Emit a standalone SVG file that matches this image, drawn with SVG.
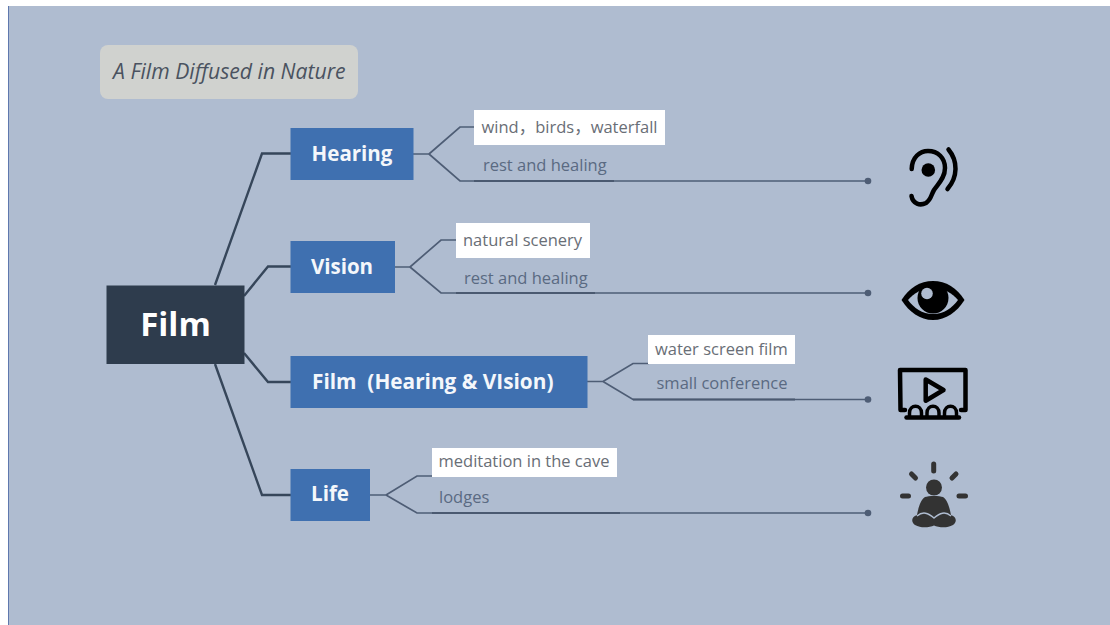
<svg xmlns="http://www.w3.org/2000/svg" width="1110" height="625" viewBox="0 0 1110 625">
<style>
text{font-family:"Open Sans","Noto Sans CJK SC",sans-serif}
.main{fill:#3F70B0}
.lab{fill:#F4F7FB;font-weight:700;font-size:20.500px}
.note{fill:#FFFFFF}
.nt{fill:#696E76;font-size:16.500px}
.st{fill:#5A6A82;font-size:16.500px}
.c1{fill:none;stroke:#36465A;stroke-width:2.400}
.c2{fill:none;stroke:#4E5D75;stroke-width:1.700}
.c3{fill:none;stroke:#4A5970;stroke-width:2}
.dot{fill:#4E5D75}
.ic{fill:none;stroke:#000;stroke-width:4.500;stroke-linecap:round;stroke-linejoin:round}
.ray{fill:none;stroke:#333;stroke-width:5;stroke-linecap:round}
</style>
<rect width="1110" height="625" fill="#FFFFFF"/>
<rect x="8" y="6" width="1102" height="620" fill="#AFBCD0"/>
<rect x="8" y="6" width="1" height="620" fill="#5F78AE"/>
<g id="connectors">
<path class="c1" d="M215 285L262 153.500H291"/>
<path class="c1" d="M244 296L268 266.500H291"/>
<path class="c1" d="M244 353L268 382H291"/>
<path class="c1" d="M215 364L262 495H291"/>
<path class="c2" d="M413 154H429M429 154L460 127H475M429 154L460 181H868"/>
<path class="c2" d="M395 267H410M410 267L441 240H457M410 267L441 293H868"/>
<path class="c2" d="M587 381.500H603M603 381.500L633 363.500H649M603 381.500L633 399.500H868"/>
<path class="c2" d="M370 495H386M386 495L417 476H433M386 495L417 513H868"/>
<path class="c3" d="M474 181H614M456 293H595M633 399.500H795M432 513H620"/>
<circle class="dot" cx="868" cy="181" r="3.300"/>
<circle class="dot" cx="868" cy="293" r="3.300"/>
<circle class="dot" cx="868" cy="399.500" r="3.300"/>
<circle class="dot" cx="868" cy="513" r="3.300"/>
</g>
<g id="title"><rect x="100" y="45" width="258" height="54" rx="8" fill="#D0D2CF"/>
<text x="113" y="79" font-size="21.200" font-style="italic" fill="#4A5260">A Film Diffused in Nature</text></g>
<g id="root"><rect x="106.500" y="285.500" width="138" height="78.500" fill="#2E3C4D"/>
<text x="175.500" y="336" font-size="33" font-weight="700" fill="#FFFFFF" text-anchor="middle">Film</text></g>
<g id="hearing"><rect class="main" x="290.500" y="128" width="123" height="52"/><text class="lab" x="352" y="161" text-anchor="middle">Hearing</text></g>
<g id="vision"><rect class="main" x="290.500" y="241" width="104.500" height="52"/><text class="lab" x="342" y="274" text-anchor="middle">Vision</text></g>
<g id="film-both"><rect class="main" x="290.500" y="356" width="297" height="52"/><text class="lab" x="312" y="389" style="font-size:20.800px" xml:space="preserve">Film  (Hearing &amp; VIsion)</text></g>
<g id="life"><rect class="main" x="290.500" y="469" width="79.500" height="52"/><text class="lab" x="330" y="501" text-anchor="middle">Life</text></g>
<g id="note-hearing-1"><rect class="note" x="474" y="110" width="191" height="35"/><text class="nt" x="481.500" y="133">wind，birds，waterfall</text></g>
<g id="note-hearing-2"><text class="st" x="483" y="171">rest and healing</text></g>
<g id="note-vision-1"><rect class="note" x="456" y="223" width="134" height="35"/><text class="nt" x="463" y="246">natural scenery</text></g>
<g id="note-vision-2"><text class="st" x="464" y="284">rest and healing</text></g>
<g id="note-film-1"><rect class="note" x="648" y="335" width="147" height="29"/><text class="nt" x="655" y="355">water screen film</text></g>
<g id="note-film-2"><text class="st" x="656.500" y="389">small conference</text></g>
<g id="note-life-1"><rect class="note" x="432" y="448" width="185" height="29"/><text class="nt" x="438.500" y="467">meditation in the cave</text></g>
<g id="note-life-2"><text class="st" x="439" y="503">lodges</text></g>
<g id="icon-ear">
<path class="ic" d="M911.700 169C912 157 920 151 928 151C938 151 945 158 945 168C945 178 938 184 934 190C931 195 931 200 926 203C920 206 913 204 911.500 196"/>
<circle cx="928.300" cy="170" r="6.800" fill="#000"/>
<path class="ic" d="M948.500 149.500C958 161 958 177 947.500 189"/>
</g>
<g id="icon-eye">
<path d="M901.500 300C909 288 920 281 933 281C946 281 957 288 964.500 300C957 312 946 320 933 320C920 320 909 312 901.500 300Z" fill="#000"/>
<path d="M908 300C914 293 922 288 933 288C944 288 952 293 958 300C952 308 944 314 933 314C922 314 914 308 908 300Z" fill="#AFBCD0"/>
<circle cx="933" cy="298" r="15.500" fill="#000"/>
<circle cx="927" cy="293.500" r="5.800" fill="#AFBCD0"/>
</g>
<g id="icon-film">
<path class="ic" d="M905 410H900.500L900 370H965.500V410H961"/>
<path class="ic" d="M925.700 379.500L943.500 390L925.700 400.700Z"/>
<path class="ic" style="stroke-width:3.500" d="M909.500 416V413C909.500 404 921.500 404 921.500 413V416M927 416V413C927 404 939 404 939 413V416M944.500 416V413C944.500 404 956.500 404 956.500 413V416"/>
<path class="ic" d="M906.500 417.500H959"/>
</g>
<g id="icon-meditate">
<path class="ray" d="M933.700 464V471M911.500 474L915.500 478M956 474L952 478M902.500 496H908.500M959 496H965.500"/>
<circle cx="934" cy="487.500" r="8" fill="#333"/>
<path d="M925 497C928 495.500 940 495.500 943 497C948 500 950 510 951 515C957 517 957 522 953 525C946 529 938 527 934 525.500C930 527 922 529 915 525C911 522 911 517 917 515C918 510 920 500 925 497Z" fill="#333"/>
<path d="M917 516C923 511 928 513 934 518C940 513 945 511 951 516" fill="none" stroke="#AFBCD0" stroke-width="1.500"/>
</g>
</svg>
